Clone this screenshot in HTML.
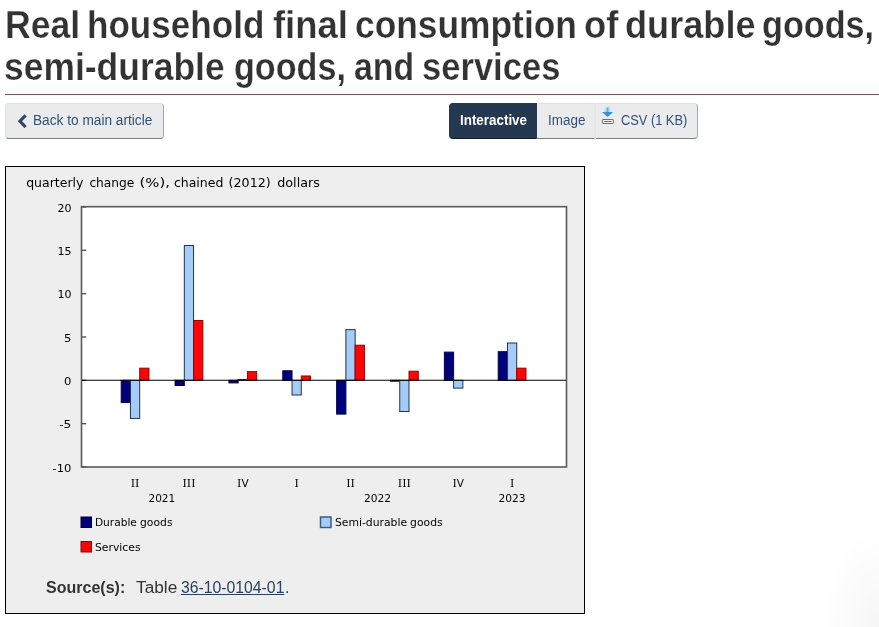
<!DOCTYPE html>
<html lang="en"><head><meta charset="utf-8">
<title>Real household final consumption of durable goods, semi-durable goods, and services</title>
<style>
html,body{margin:0;padding:0;background:#fff;}
body{width:879px;height:627px;position:relative;overflow:hidden;font-family:"Liberation Sans",sans-serif;color:#333;}
.abs{position:absolute;white-space:nowrap;transform-origin:0 0;}
h1{margin:0;font-weight:bold;font-size:38px;line-height:normal;color:#333;-webkit-text-stroke:0.25px #fff;}
.hr{position:absolute;left:5px;right:0;top:94px;height:1px;background:#7a565b;}
.btn{position:absolute;box-sizing:border-box;top:103px;height:36px;background:#eaebed;border:1px solid;border-color:#dfe0e2 #a6a7a9 #7d7e80 #dfe0e2;color:#335075;font-size:14px;}
.chart{position:absolute;left:5px;top:166px;width:578px;height:446px;border:1px solid #000;background:#eee;}
svg text{font-family:"DejaVu Sans","Liberation Sans",sans-serif;font-size:10.5px;fill:#000;}
svg .rs{font-family:"DejaVu Serif","Liberation Serif",serif;font-size:11px;}
.src{position:absolute;top:576px;font-size:16px;line-height:24px;color:#333;white-space:nowrap;transform-origin:0 0;}
a.src{color:#284162;text-decoration:underline;}
</style></head>
<body>
<h1 class="abs" style="left:0;top:0;width:879px;height:90px"><span class="abs" style="left:4.89px;top:3.5px;transform:scaleX(0.9373)">Real</span> <span class="abs" style="left:86.93px;top:3.5px;transform:scaleX(0.923)">household</span> <span class="abs" style="left:272.54px;top:3.5px;transform:scaleX(0.9581)">final</span> <span class="abs" style="left:355.07px;top:3.5px;transform:scaleX(0.9302)">consumption</span> <span class="abs" style="left:583.74px;top:3.5px;transform:scaleX(0.9571)">of</span> <span class="abs" style="left:624.6px;top:3.5px;transform:scaleX(0.9515)">durable</span> <span class="abs" style="left:762.2px;top:3.5px;transform:scaleX(0.9)">goods,</span> <span class="abs" style="left:4.33px;top:45.5px;transform:scaleX(0.933)">semi-durable</span> <span class="abs" style="left:234.2px;top:45.5px;transform:scaleX(0.8983)">goods,</span> <span class="abs" style="left:354.11px;top:45.5px;transform:scaleX(0.8906)">and</span> <span class="abs" style="left:422.48px;top:45.5px;transform:scaleX(0.9094)">services</span> </h1>
<div class="hr"></div>

<div class="btn" style="left:5px;width:159px;border-radius:4px;">
 <svg class="abs" style="left:11px;top:10px" width="12" height="14" viewBox="0 0 12 14"><path d="M8.6 1.3 L2.9 7.2 L8.6 13.1" fill="none" stroke="#2f4868" stroke-width="3.1"/></svg>
 <span class="abs" id="b1" style="left:26.8px;top:8px;line-height:17px;transform:scaleX(0.977)">Back to main article</span>
</div>

<div class="btn" style="left:449px;width:88px;border-radius:4px 0 0 4px;background:#243850;border-color:#243850 #243850 #111c2b #243850;color:#fff;font-weight:bold;">
 <span class="abs" id="b2" style="left:10px;top:8px;line-height:17px;transform:scaleX(0.957)">Interactive</span>
</div>
<div class="btn" style="left:537px;width:58px;border-left:none;border-right-color:#e6e7ea;">
 <span class="abs" id="b3" style="left:10.6px;top:8px;line-height:17px;transform:scaleX(0.96)">Image</span>
</div>
<div class="btn" style="left:595px;width:103px;border-radius:0 4px 4px 0;border-left-color:#e4e5e7;">
 <svg class="abs" style="left:5px;top:0px" width="16" height="24" viewBox="0 0 16 24">
  <defs><linearGradient id="ag" x1="0" y1="0" x2="0" y2="1"><stop offset="0" stop-color="#e3f0fa"/><stop offset="1" stop-color="#9fcdee"/></linearGradient></defs>
  <rect x="3.6" y="0.5" width="5.8" height="7.8" fill="url(#ag)" opacity="0.75"/>
  <rect x="5.6" y="3.5" width="1.8" height="5" fill="#4f9fd6" opacity="0.8"/>
  <path d="M1.1 8h11L6.6 12.9z" fill="#3493d6"/>
  <rect x="1.4" y="15.5" width="11" height="4" rx="0.6" fill="#f2f2f2" stroke="#707070" stroke-width="1"/>
  <rect x="3.2" y="17" width="7.4" height="1" fill="#707070"/>
 </svg>
 <span class="abs" id="b4" style="left:25px;top:8px;line-height:17px;transform:scaleX(0.915)">CSV (1 KB)</span>
</div>

<div class="chart"></div>
<svg class="abs" style="left:0;top:0" width="879" height="627" viewBox="0 0 879 627">
 <rect x="81.5" y="206.7" width="485" height="260.3" fill="#fff" stroke="#5a5a5a" stroke-width="1.6"/>
 <line x1="82" y1="207.00" x2="86.2" y2="207.00" stroke="#555" stroke-width="1.4"/>
<line x1="82" y1="250.33" x2="86.2" y2="250.33" stroke="#555" stroke-width="1.4"/>
<line x1="82" y1="293.66" x2="86.2" y2="293.66" stroke="#555" stroke-width="1.4"/>
<line x1="82" y1="336.99" x2="86.2" y2="336.99" stroke="#555" stroke-width="1.4"/>
<line x1="82" y1="380.32" x2="86.2" y2="380.32" stroke="#555" stroke-width="1.4"/>
<line x1="82" y1="423.65" x2="86.2" y2="423.65" stroke="#555" stroke-width="1.4"/>
<line x1="82" y1="466.98" x2="86.2" y2="466.98" stroke="#555" stroke-width="1.4"/>
 <rect x="121.20" y="380.30" width="9.25" height="22.27" fill="#00007c" stroke="#00004c" stroke-width="1"/>
<rect x="130.45" y="380.30" width="9.25" height="38.13" fill="#a5cbf6" stroke="#1c3558" stroke-width="1"/>
<rect x="139.70" y="368.17" width="9.25" height="12.13" fill="#fd0505" stroke="#9a0000" stroke-width="1"/>
<rect x="175.06" y="380.30" width="9.25" height="5.20" fill="#00007c" stroke="#00004c" stroke-width="1"/>
<rect x="184.31" y="245.53" width="9.25" height="134.77" fill="#a5cbf6" stroke="#1c3558" stroke-width="1"/>
<rect x="193.56" y="320.50" width="9.25" height="59.80" fill="#fd0505" stroke="#9a0000" stroke-width="1"/>
<rect x="228.92" y="380.30" width="9.25" height="2.60" fill="#00007c" stroke="#00004c" stroke-width="1"/>
<rect x="238.17" y="379.43" width="9.25" height="0.87" fill="#a5cbf6" stroke="#1c3558" stroke-width="1"/>
<rect x="247.42" y="371.63" width="9.25" height="8.67" fill="#fd0505" stroke="#9a0000" stroke-width="1"/>
<rect x="282.78" y="370.77" width="9.25" height="9.53" fill="#00007c" stroke="#00004c" stroke-width="1"/>
<rect x="292.03" y="380.30" width="9.25" height="14.73" fill="#a5cbf6" stroke="#1c3558" stroke-width="1"/>
<rect x="301.28" y="375.97" width="9.25" height="4.33" fill="#fd0505" stroke="#9a0000" stroke-width="1"/>
<rect x="336.64" y="380.30" width="9.25" height="33.80" fill="#00007c" stroke="#00004c" stroke-width="1"/>
<rect x="345.89" y="329.60" width="9.25" height="50.70" fill="#a5cbf6" stroke="#1c3558" stroke-width="1"/>
<rect x="355.14" y="345.20" width="9.25" height="35.10" fill="#fd0505" stroke="#9a0000" stroke-width="1"/>
<rect x="390.50" y="380.30" width="9.25" height="0.87" fill="#00007c" stroke="#00004c" stroke-width="1"/>
<rect x="399.75" y="380.30" width="9.25" height="31.20" fill="#a5cbf6" stroke="#1c3558" stroke-width="1"/>
<rect x="409.00" y="371.20" width="9.25" height="9.10" fill="#fd0505" stroke="#9a0000" stroke-width="1"/>
<rect x="444.36" y="352.13" width="9.25" height="28.17" fill="#00007c" stroke="#00004c" stroke-width="1"/>
<rect x="453.61" y="380.30" width="9.25" height="7.80" fill="#a5cbf6" stroke="#1c3558" stroke-width="1"/>
<rect x="498.22" y="351.70" width="9.25" height="28.60" fill="#00007c" stroke="#00004c" stroke-width="1"/>
<rect x="507.47" y="343.03" width="9.25" height="37.27" fill="#a5cbf6" stroke="#1c3558" stroke-width="1"/>
<rect x="516.72" y="368.17" width="9.25" height="12.13" fill="#fd0505" stroke="#9a0000" stroke-width="1"/>
 <line x1="82" y1="380.3" x2="566" y2="380.3" stroke="#000" stroke-width="1.1"/>
 <text x="26.20" y="186.8" textLength="57.20" lengthAdjust="spacingAndGlyphs" style="font-size:12px" >quarterly</text>
<text x="89.40" y="186.8" textLength="45.00" lengthAdjust="spacingAndGlyphs" style="font-size:12px" >change</text>
<text x="139.50" y="186.8" textLength="30.40" lengthAdjust="spacingAndGlyphs" style="font-size:12px" >(%),</text>
<text x="173.90" y="186.8" textLength="49.50" lengthAdjust="spacingAndGlyphs" style="font-size:12px" >chained</text>
<text x="228.60" y="186.8" textLength="42.10" lengthAdjust="spacingAndGlyphs" style="font-size:12px" >(2012)</text>
<text x="277.20" y="186.8" textLength="42.70" lengthAdjust="spacingAndGlyphs" style="font-size:12px" >dollars</text>
 <text x="57.40" y="211.8" textLength="14.00" lengthAdjust="spacingAndGlyphs" style="font-size:10.5px" >20</text>
<text x="57.40" y="255.13" textLength="14.00" lengthAdjust="spacingAndGlyphs" style="font-size:10.5px" >15</text>
<text x="57.40" y="298.46" textLength="14.00" lengthAdjust="spacingAndGlyphs" style="font-size:10.5px" >10</text>
<text x="64.00" y="341.79" textLength="7.40" lengthAdjust="spacingAndGlyphs" style="font-size:10.5px" >5</text>
<text x="64.00" y="385.12" textLength="7.40" lengthAdjust="spacingAndGlyphs" style="font-size:10.5px" >0</text>
<text x="59.20" y="428.45" textLength="12.20" lengthAdjust="spacingAndGlyphs" style="font-size:10.5px" >-5</text>
<text x="52.60" y="471.78" textLength="18.80" lengthAdjust="spacingAndGlyphs" style="font-size:10.5px" >-10</text>
 <text x="135.10" y="487" text-anchor="middle" style="font-size:10.5px"><tspan class="rs">I</tspan><tspan class="rs">I</tspan></text>
<text x="188.96" y="487" text-anchor="middle" style="font-size:10.5px"><tspan class="rs">I</tspan><tspan class="rs">I</tspan><tspan class="rs">I</tspan></text>
<text x="242.82" y="487" text-anchor="middle" style="font-size:10.5px"><tspan class="rs">I</tspan>V</text>
<text x="296.68" y="487" text-anchor="middle" style="font-size:10.5px"><tspan class="rs">I</tspan></text>
<text x="350.54" y="487" text-anchor="middle" style="font-size:10.5px"><tspan class="rs">I</tspan><tspan class="rs">I</tspan></text>
<text x="404.40" y="487" text-anchor="middle" style="font-size:10.5px"><tspan class="rs">I</tspan><tspan class="rs">I</tspan><tspan class="rs">I</tspan></text>
<text x="458.26" y="487" text-anchor="middle" style="font-size:10.5px"><tspan class="rs">I</tspan>V</text>
<text x="512.12" y="487" text-anchor="middle" style="font-size:10.5px"><tspan class="rs">I</tspan></text>
 <text x="148.50" y="502" textLength="26.70" lengthAdjust="spacingAndGlyphs" style="font-size:10.5px" >2021</text>
 <text x="364.00" y="502" textLength="27.10" lengthAdjust="spacingAndGlyphs" style="font-size:10.5px" >2022</text>
 <text x="498.50" y="502" textLength="27.10" lengthAdjust="spacingAndGlyphs" style="font-size:10.5px" >2023</text>
 <rect x="81" y="517" width="10.5" height="10.5" fill="#00007c" stroke="#00003c" stroke-width="1"/>
 <text x="94.90" y="526" textLength="42.00" lengthAdjust="spacingAndGlyphs" style="font-size:10.5px" >Durable</text> <text x="140.00" y="526" textLength="32.50" lengthAdjust="spacingAndGlyphs" style="font-size:10.5px" >goods</text>
 <rect x="320.5" y="517" width="10.5" height="10.5" fill="#a5cbf6" stroke="#3e5c80" stroke-width="1.5"/>
 <text x="334.90" y="526" textLength="72.20" lengthAdjust="spacingAndGlyphs" style="font-size:10.5px" >Semi-durable</text> <text x="410.10" y="526" textLength="32.50" lengthAdjust="spacingAndGlyphs" style="font-size:10.5px" >goods</text>
 <rect x="81" y="541.5" width="10.5" height="10.5" fill="#fd0505" stroke="#9a0000" stroke-width="1"/>
 <text x="94.90" y="550.5" textLength="45.70" lengthAdjust="spacingAndGlyphs" style="font-size:10.5px" >Services</text>
</svg>
<b class="src" style="left:46.1px;transform:scaleX(1.0)">Source(s):</b>
<span class="src" style="left:135.7px;transform:scaleX(1.079)">Table</span>
<a class="src" style="left:180.7px;transform:scaleX(0.985)">36-10-0104-01</a>
<span class="src" style="left:285px">.</span>
<div style="position:absolute;right:0;bottom:0;width:60px;height:100px;background:radial-gradient(ellipse at 100% 100%, rgba(0,0,0,0.035), rgba(0,0,0,0) 70%);"></div>
</body></html>
